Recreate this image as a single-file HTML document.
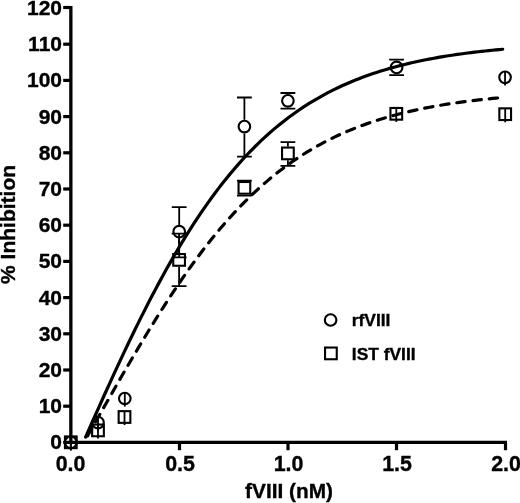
<!DOCTYPE html>
<html><head><meta charset="utf-8"><title>fVIII inhibition</title>
<style>html,body{margin:0;padding:0;background:#fff}svg{display:block}text{font-family:"Liberation Sans",sans-serif;font-weight:bold;fill:#000;stroke:#000;stroke-width:0.35px}</style></head><body>
<svg width="520" height="503" viewBox="0 0 520 503">
<rect width="520" height="503" fill="#fff"/>
<g stroke="#000" stroke-width="3.3" fill="none">
<path d="M70.85,5.9 V444"/>
<path d="M69.4,442.4 H507"/>
</g>
<g stroke="#000" stroke-width="3.2" fill="none">
<path d="M63.2,442.40 H70"/>
<path d="M63.2,406.20 H70"/>
<path d="M63.2,370.00 H70"/>
<path d="M63.2,333.80 H70"/>
<path d="M63.2,297.60 H70"/>
<path d="M63.2,261.40 H70"/>
<path d="M63.2,225.20 H70"/>
<path d="M63.2,189.00 H70"/>
<path d="M63.2,152.80 H70"/>
<path d="M63.2,116.60 H70"/>
<path d="M63.2,80.40 H70"/>
<path d="M63.2,44.20 H70"/>
<path d="M63.2,7.50 H70"/>
<path d="M179.50,443 V450.2"/>
<path d="M288.00,443 V450.2"/>
<path d="M396.50,443 V450.2"/>
<path d="M505.50,443 V450.2"/>
</g>
<g font-size="21" text-anchor="end">
<text x="62" y="449.30">0</text>
<text x="62" y="413.10">10</text>
<text x="62" y="376.90">20</text>
<text x="62" y="340.70">30</text>
<text x="62" y="304.50">40</text>
<text x="62" y="268.30">50</text>
<text x="62" y="232.10">60</text>
<text x="62" y="195.90">70</text>
<text x="62" y="159.70">80</text>
<text x="62" y="123.50">90</text>
<text x="62" y="87.30">100</text>
<text x="62" y="51.10">110</text>
<text x="62" y="14.90">120</text>
</g>
<g font-size="21.4" text-anchor="middle">
<text x="70.50" y="470.7">0.0</text>
<text x="180.00" y="470.7">0.5</text>
<text x="288.50" y="470.7">1.0</text>
<text x="397.00" y="470.7">1.5</text>
<text x="506.00" y="470.7">2.0</text>
</g>
<text font-size="20.8" text-anchor="middle" x="289" y="497.6">fVIII (nM)</text>
<text font-size="21" text-anchor="middle" transform="translate(15.4,224.4) rotate(-90)">% Inhibition</text>
<path d="M85.60,437.04 L89.11,429.12 L92.61,421.23 L96.12,413.36 L99.62,405.53 L103.13,397.74 L106.63,390.00 L110.14,382.31 L113.64,374.67 L117.15,367.10 L120.65,359.58 L124.16,352.14 L127.66,344.77 L131.17,337.48 L134.67,330.28 L138.18,323.15 L141.68,316.12 L145.19,309.17 L148.69,302.33 L152.20,295.57 L155.70,288.92 L159.21,282.38 L162.71,275.94 L166.22,269.60 L169.72,263.37 L173.23,257.26 L176.73,251.25 L180.24,245.36 L183.74,239.58 L187.25,233.91 L190.75,228.36 L194.26,222.93 L197.76,217.61 L201.27,212.40 L204.77,207.31 L208.28,202.34 L211.78,197.48 L215.29,192.73 L218.79,188.10 L222.30,183.58 L225.80,179.17 L229.31,174.87 L232.81,170.68 L236.32,166.60 L239.82,162.62 L243.33,158.75 L246.83,154.99 L250.34,151.32 L253.84,147.76 L257.35,144.29 L260.85,140.92 L264.36,137.65 L267.86,134.47 L271.37,131.38 L274.87,128.39 L278.38,125.48 L281.88,122.66 L285.39,119.92 L288.89,117.26 L292.40,114.69 L295.90,112.19 L299.41,109.77 L302.91,107.43 L306.42,105.15 L309.92,102.95 L313.43,100.82 L316.93,98.76 L320.44,96.77 L323.94,94.83 L327.45,92.96 L330.95,91.15 L334.46,89.40 L337.96,87.71 L341.47,86.07 L344.97,84.49 L348.48,82.96 L351.98,81.48 L355.49,80.05 L358.99,78.67 L362.50,77.33 L366.00,76.04 L369.51,74.79 L373.01,73.59 L376.52,72.43 L380.02,71.30 L383.53,70.22 L387.03,69.17 L390.54,68.16 L394.04,67.18 L397.55,66.24 L401.05,65.33 L404.56,64.45 L408.06,63.61 L411.57,62.79 L415.07,62.00 L418.58,61.24 L422.08,60.51 L425.59,59.80 L429.09,59.11 L432.60,58.45 L436.10,57.82 L439.61,57.20 L443.11,56.61 L446.62,56.04 L450.12,55.49 L453.63,54.96 L457.13,54.45 L460.64,53.96 L464.14,53.48 L467.65,53.02 L471.15,52.58 L474.66,52.15 L478.16,51.74 L481.67,51.35 L485.17,50.97 L488.68,50.60 L492.18,50.24 L495.69,49.90 L499.19,49.57 L502.70,49.25" fill="none" stroke="#000" stroke-width="3.2" stroke-linecap="round" stroke-linejoin="round"/>
<path d="M86.00,438.53 L89.51,432.42 L93.01,426.29 L96.52,420.15 L100.02,414.01 L103.53,407.87 L107.04,401.73 L110.54,395.60 L114.05,389.49 L117.55,383.39 L121.06,377.32 L124.56,371.26 L128.07,365.24 L131.58,359.26 L135.08,353.31 L138.59,347.40 L142.09,341.54 L145.60,335.73 L149.11,329.97 L152.61,324.27 L156.12,318.62 L159.62,313.04 L163.13,307.52 L166.64,302.07 L170.14,296.70 L173.65,291.39 L177.15,286.16 L180.66,281.01 L184.16,275.93 L187.67,270.94 L191.18,266.03 L194.68,261.20 L198.19,256.46 L201.69,251.81 L205.20,247.24 L208.71,242.76 L212.21,238.37 L215.72,234.06 L219.22,229.85 L222.73,225.72 L226.24,221.69 L229.74,217.74 L233.25,213.89 L236.75,210.12 L240.26,206.44 L243.76,202.85 L247.27,199.34 L250.78,195.93 L254.28,192.60 L257.79,189.35 L261.29,186.18 L264.80,183.10 L268.31,180.11 L271.81,177.19 L275.32,174.35 L278.82,171.59 L282.33,168.90 L285.84,166.30 L289.34,163.76 L292.85,161.30 L296.35,158.91 L299.86,156.59 L303.36,154.34 L306.87,152.16 L310.38,150.04 L313.88,147.98 L317.39,145.99 L320.89,144.06 L324.40,142.19 L327.91,140.38 L331.41,138.62 L334.92,136.92 L338.42,135.27 L341.93,133.68 L345.44,132.14 L348.94,130.64 L352.45,129.20 L355.95,127.80 L359.46,126.45 L362.96,125.14 L366.47,123.88 L369.98,122.66 L373.48,121.48 L376.99,120.34 L380.49,119.23 L384.00,118.17 L387.51,117.14 L391.01,116.14 L394.52,115.18 L398.02,114.26 L401.53,113.36 L405.04,112.50 L408.54,111.66 L412.05,110.85 L415.55,110.08 L419.06,109.32 L422.56,108.60 L426.07,107.90 L429.58,107.22 L433.08,106.57 L436.59,105.94 L440.09,105.34 L443.60,104.75 L447.11,104.19 L450.61,103.64 L454.12,103.12 L457.62,102.61 L461.13,102.12 L464.64,101.65 L468.14,101.20 L471.65,100.76 L475.15,100.34 L478.66,99.93 L482.16,99.54 L485.67,99.16 L489.18,98.80 L492.68,98.45 L496.19,98.11 L499.69,97.78 L503.20,97.47" fill="none" stroke="#000" stroke-width="3.2" stroke-linecap="round" stroke-linejoin="round" stroke-dasharray="8.4,7.9" stroke-dashoffset="13.3"/>
<g stroke="#000" stroke-width="1.8" fill="none">
<path d="M70.80,436.50 V450.40"/>
<path d="M98.00,416.80 V430.70"/>
<path d="M124.80,392.70 V406.60"/>
<path d="M179.20,224.90 V207.20 M179.20,238.50 V257.40 M171.80,207.20 H186.60 M171.80,257.40 H186.60"/>
<path d="M244.40,119.80 V97.50 M244.40,133.40 V156.70 M237.00,97.50 H251.80 M237.00,156.70 H251.80"/>
<path d="M287.90,94.00 V93.00 M287.90,107.60 V108.60 M280.50,93.00 H295.30 M280.50,108.60 H295.30"/>
<path d="M396.60,60.60 V59.70 M396.60,74.20 V75.10 M389.20,59.70 H404.00 M389.20,75.10 H404.00"/>
<path d="M505.05,71.55 V85.45"/>
<path d="M70.80,436.50 V450.40"/>
<path d="M98.00,424.60 V438.50"/>
<path d="M124.50,411.20 V425.10"/>
<path d="M179.10,253.10 V233.70 M179.10,266.70 V286.10 M171.70,233.70 H186.50 M171.70,286.10 H186.50"/>
<path d="M244.40,181.05 V180.60 M244.40,194.65 V195.60 M237.00,180.60 H251.80 M237.00,195.60 H251.80"/>
<path d="M287.90,146.60 V142.20 M287.90,160.20 V165.80 M280.50,142.20 H295.30 M280.50,165.80 H295.30"/>
<path d="M396.30,108.00 V121.90"/>
<path d="M505.20,108.40 V122.30"/>
</g>
<g stroke="#000" stroke-width="2.1" fill="none">
<circle cx="70.80" cy="442.30" r="5.8"/>
<circle cx="98.00" cy="422.60" r="5.8"/>
<circle cx="124.80" cy="398.50" r="5.8"/>
<circle cx="179.20" cy="231.70" r="5.8"/>
<circle cx="244.40" cy="126.60" r="5.8"/>
<circle cx="287.90" cy="100.80" r="5.8"/>
<circle cx="396.60" cy="67.40" r="5.8"/>
<circle cx="505.05" cy="77.35" r="5.8"/>
<rect x="64.95" y="436.45" width="11.7" height="11.7"/>
<rect x="92.15" y="424.55" width="11.7" height="11.7"/>
<rect x="118.65" y="411.15" width="11.7" height="11.7"/>
<rect x="173.25" y="254.05" width="11.7" height="11.7"/>
<rect x="238.55" y="182.00" width="11.7" height="11.7"/>
<rect x="282.05" y="147.55" width="11.7" height="11.7"/>
<rect x="390.45" y="107.95" width="11.7" height="11.7"/>
<rect x="499.35" y="108.35" width="11.7" height="11.7"/>
<circle cx="330.6" cy="320" r="5.8"/>
<rect x="325.05" y="347.55" width="11.7" height="11.7"/>
</g>
<g font-size="17.4"><text x="351.8" y="326.3">rfVIII</text><text x="351.8" y="360.2">IST fVIII</text></g>
</svg></body></html>
